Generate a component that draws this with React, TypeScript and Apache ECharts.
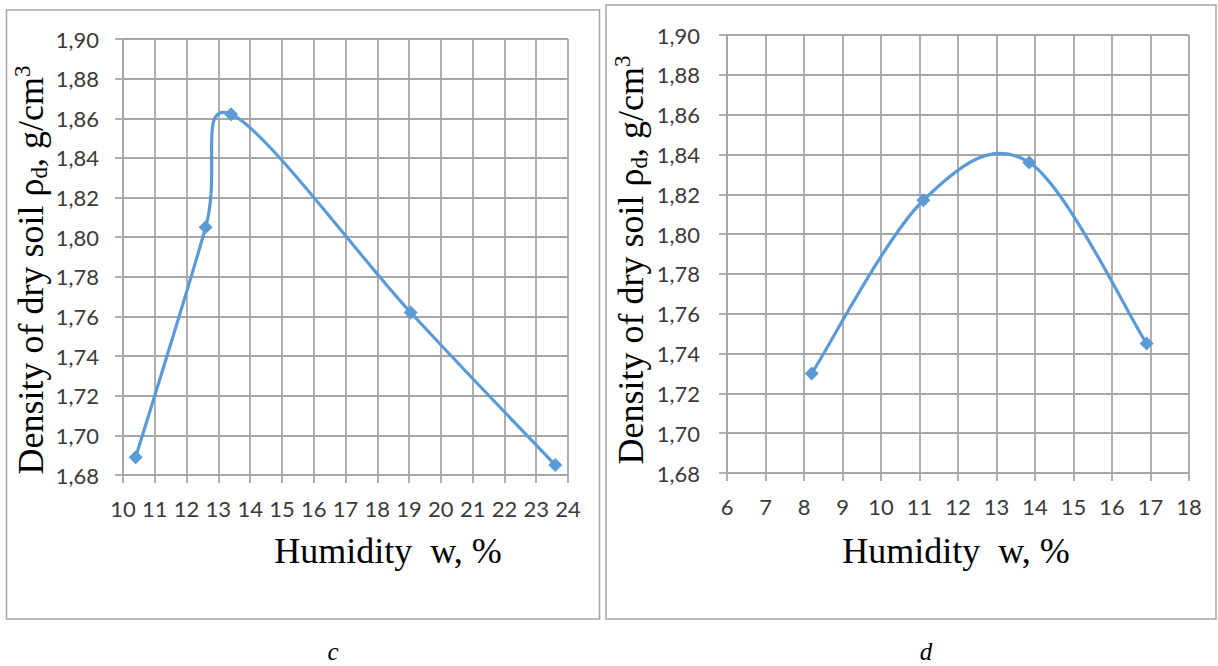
import React, { useEffect, useRef } from "react";
import * as echarts from "echarts";

// Panel c
const cHumidity = [10.4, 12.6, 13.4, 19.05, 23.6];
const cDensity = [1.689, 1.805, 1.862, 1.762, 1.685];
const cXMin = 10;
const cXMax = 24;
// Panel d
const dHumidity = [8.2, 11.1, 13.85, 16.9];
const dDensity = [1.73, 1.817, 1.836, 1.745];
const dXMin = 6;
const dXMax = 18;
// Shared y axis
const yMin = 1.68;
const yMax = 1.9;
const yStep = 0.02;
const xStep = 1;

const xTitle = "Humidity  w, %";
const yTitle = "{m|Density of dry soil ρ}{s|d}{m|, g/cm}{p|3}";
const panelLabels = ["c", "d"];

const GRAY = "#a6a6a6";
const BLUE = "#5b9bd5";
const LABEL_COLOR = "#3a3a3a";
const TICK_FONT = "Lato";
const SERIF = "'Liberation Serif', 'Times New Roman', serif";

function xAxisCfg(gridIndex: number, min: number, max: number) {
  return {
    type: "value",
    gridIndex,
    min,
    max,
    interval: xStep,
    axisLine: { show: true, lineStyle: { color: GRAY, width: 1.8 } },
    axisTick: { show: true, inside: false, length: 8, lineStyle: { color: GRAY, width: 1.8 } },
    splitLine: { show: true, lineStyle: { color: GRAY, width: 1.8 } },
    axisLabel: {
      show: true,
      margin: 22,
      fontFamily: TICK_FONT,
      fontSize: 22,
      color: LABEL_COLOR,
      hideOverlap: false,
      formatter: (v: number) => String(Math.round(v)),
    },
  };
}

function yAxisCfg(gridIndex: number, margin: number) {
  return {
    type: "value",
    gridIndex,
    min: yMin,
    max: yMax,
    interval: yStep,
    axisLine: { show: true, lineStyle: { color: GRAY, width: 1.8 } },
    axisTick: { show: true, inside: false, length: 8, lineStyle: { color: GRAY, width: 1.8 } },
    splitLine: { show: true, lineStyle: { color: GRAY, width: 1.8 } },
    axisLabel: {
      show: true,
      margin,
      fontFamily: TICK_FONT,
      fontSize: 22,
      color: LABEL_COLOR,
      formatter: (v: number) => v.toFixed(2).replace(".", ","),
    },
  };
}

// Excel-like smoothed line (Catmull-Rom bezier) drawn through the axis scales
function curveSeries(idx: number, xs: number[], ys: number[]) {
  return {
    type: "custom",
    xAxisIndex: idx,
    yAxisIndex: idx,
    data: xs.map((x, i) => [x, ys[i]]),
    encode: { x: 0, y: 1 },
    silent: true,
    z: 2,
    renderItem: (params: any, api: any) => {
      if (params.dataIndex !== 0) return null;
      const pts = xs.map((x, i) => api.coord([x, ys[i]]));
      const n = pts.length;
      const P = (i: number) => pts[Math.max(0, Math.min(n - 1, i))];
      let d = `M${pts[0][0]},${pts[0][1]}`;
      for (let i = 0; i < n - 1; i++) {
        const p0 = P(i - 1);
        const p1 = P(i);
        const p2 = P(i + 1);
        const p3 = P(i + 2);
        const c1x = p1[0] + (p2[0] - p0[0]) / 6;
        const c1y = p1[1] + (p2[1] - p0[1]) / 6;
        const c2x = p2[0] - (p3[0] - p1[0]) / 6;
        const c2y = p2[1] - (p3[1] - p1[1]) / 6;
        d += ` C${c1x},${c1y} ${c2x},${c2y} ${p2[0]},${p2[1]}`;
      }
      return {
        type: "path",
        shape: { pathData: d },
        style: { fill: "none", stroke: BLUE, lineWidth: 3.2, lineJoin: "round", lineCap: "round" },
      };
    },
  };
}

function markerSeries(idx: number, xs: number[], ys: number[]) {
  return {
    type: "scatter",
    xAxisIndex: idx,
    yAxisIndex: idx,
    data: xs.map((x, i) => [x, ys[i]]),
    symbol: "diamond",
    symbolSize: 14,
    itemStyle: { color: BLUE, opacity: 1 },
    silent: true,
    z: 3,
  };
}

const richTitle = {
  m: { fontSize: 36, fontFamily: SERIF, fill: "#000", color: "#000", lineHeight: 40 },
  s: { fontSize: 23, fontFamily: SERIF, fill: "#000", color: "#000", lineHeight: 23, verticalAlign: "bottom" },
  p: { fontSize: 23, fontFamily: SERIF, fill: "#000", color: "#000", lineHeight: 23, verticalAlign: "top" },
};

export default function App() {
  const ref = useRef<HTMLDivElement>(null);

  useEffect(() => {
    document.body.style.margin = "0";
    if (!ref.current) return;
    const chart = echarts.init(ref.current, undefined, { renderer: "svg" });
    const option = {
      animation: false,
      backgroundColor: "#ffffff",
      grid: [
        { left: 123, top: 39, width: 445, height: 436 },
        { left: 727, top: 35, width: 462, height: 438 },
      ],
      xAxis: [xAxisCfg(0, cXMin, cXMax), xAxisCfg(1, dXMin, dXMax)],
      yAxis: [yAxisCfg(0, 24), yAxisCfg(1, 27)],
      series: [
        curveSeries(0, cHumidity, cDensity),
        markerSeries(0, cHumidity, cDensity),
        curveSeries(1, dHumidity, dDensity),
        markerSeries(1, dHumidity, dDensity),
      ],
      graphic: [
        {
          type: "rect",
          silent: true,
          z: -10,
          shape: { x: 6.5, y: 10, width: 593, height: 609 },
          style: { fill: "none", stroke: GRAY, lineWidth: 1.5 },
        },
        {
          type: "rect",
          silent: true,
          z: -10,
          shape: { x: 606, y: 5, width: 610, height: 614 },
          style: { fill: "none", stroke: GRAY, lineWidth: 1.5 },
        },
        {
          type: "text",
          x: 388,
          y: 551,
          style: { text: xTitle, fontFamily: SERIF, fontSize: 36, fill: "#000", align: "center", verticalAlign: "middle" },
        },
        {
          type: "text",
          x: 956,
          y: 551,
          style: { text: xTitle, fontFamily: SERIF, fontSize: 36, fill: "#000", align: "center", verticalAlign: "middle" },
        },
        {
          type: "text",
          x: 31,
          y: 270,
          rotation: Math.PI / 2,
          style: { text: yTitle, rich: richTitle, fontFamily: SERIF, fontSize: 36, fill: "#000", align: "center", verticalAlign: "middle" },
        },
        {
          type: "text",
          x: 631,
          y: 260,
          rotation: Math.PI / 2,
          style: { text: yTitle, rich: richTitle, fontFamily: SERIF, fontSize: 36, fill: "#000", align: "center", verticalAlign: "middle" },
        },
        {
          type: "text",
          x: 333,
          y: 651,
          style: { text: panelLabels[0], fontFamily: SERIF, fontStyle: "italic", fontSize: 25, fill: "#000", align: "center", verticalAlign: "middle" },
        },
        {
          type: "text",
          x: 926,
          y: 651,
          style: { text: panelLabels[1], fontFamily: SERIF, fontStyle: "italic", fontSize: 25, fill: "#000", align: "center", verticalAlign: "middle" },
        },
      ],
    };
    chart.setOption(option as any);
    return () => chart.dispose();
  }, []);

  return (
    <div
      ref={ref}
      style={{ position: "absolute", left: 0, top: 0, width: 1218, height: 666, background: "#fff" }}
    />
  );
}
